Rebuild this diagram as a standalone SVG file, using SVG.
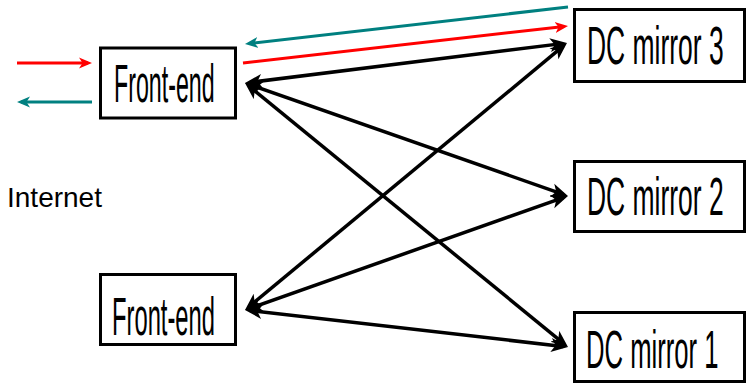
<svg xmlns="http://www.w3.org/2000/svg" width="747" height="385" viewBox="0 0 747 385">
<style>
.box{fill:#fff;stroke:#000;stroke-width:3}
.lbl{font-family:"Liberation Sans",Arial,sans-serif;font-size:54px;fill:#000}
.conn{stroke:#000;stroke-width:3.5;fill:none;marker-start:url(#ah);marker-end:url(#ah)}
.red{stroke:#ff0000;stroke-width:3;fill:none;marker-end:url(#ahr)}
.teal{stroke:#008080;stroke-width:3;fill:none;marker-end:url(#aht)}
</style>
<defs>
<marker id="ah" markerUnits="userSpaceOnUse" viewBox="0 -8 17 16" markerWidth="17" markerHeight="16" refX="12" refY="0" orient="auto-start-reverse">
<path d="M0,-7 L17,0 L0,7 L4.5,0 Z" fill="#000"/>
</marker>
<marker id="ahr" markerUnits="userSpaceOnUse" viewBox="0 -6 13 12" markerWidth="13" markerHeight="12" refX="9" refY="0" orient="auto">
<path d="M0,-5.5 L13,0 L0,5.5 L3.5,0 Z" fill="#ff0000"/>
</marker>
<marker id="aht" markerUnits="userSpaceOnUse" viewBox="0 -6 13 12" markerWidth="13" markerHeight="12" refX="9" refY="0" orient="auto">
<path d="M0,-5.5 L13,0 L0,5.5 L3.5,0 Z" fill="#008080"/>
</marker>
</defs>
<text x="7" y="207" font-family="Liberation Sans, Arial, sans-serif" font-size="28" fill="#000">Internet</text>
<g id="connectors">
<line class="conn" x1="249.96" y1="82.38" x2="562.04" y2="43.62"/>
<line class="conn" x1="249.72" y1="84.65" x2="563.28" y2="194.35"/>
<line class="conn" x1="248.87" y1="86.16" x2="564.13" y2="343.84"/>
<line class="conn" x1="248.85" y1="306.81" x2="563.15" y2="46.19"/>
<line class="conn" x1="249.72" y1="308.34" x2="563.28" y2="197.66"/>
<line class="conn" x1="249.97" y1="310.57" x2="563.03" y2="346.43"/>
<line class="red" x1="243" y1="63" x2="564.03" y2="26.45"/>
<line class="teal" x1="568" y1="7" x2="248.97" y2="43.54"/>
<line class="red" x1="17" y1="63" x2="88" y2="63"/>
<line class="teal" x1="92" y1="102" x2="21" y2="102"/>
</g>
<g id="frontend1">
<rect class="box" x="100.5" y="48" width="135" height="70"/>
<text class="lbl" transform="translate(114,102) scale(0.43,1)">Front-end</text>
</g>
<g id="frontend2">
<rect class="box" x="100.5" y="274.5" width="135" height="70"/>
<text class="lbl" transform="translate(112,335) scale(0.44,1)">Front-end</text>
</g>
<g id="dcmirror3">
<rect class="box" x="574.5" y="9.5" width="170" height="72"/>
<text class="lbl" transform="translate(587,64) scale(0.49,1)">DC mirror 3</text>
</g>
<g id="dcmirror2">
<rect class="box" x="574.5" y="161.5" width="170" height="70"/>
<text class="lbl" transform="translate(587,215) scale(0.49,1)">DC mirror 2</text>
</g>
<g id="dcmirror1">
<rect class="box" x="574.5" y="312.5" width="170" height="69"/>
<text class="lbl" transform="translate(586,368) scale(0.475,1)">DC mirror 1</text>
</g>
</svg>
